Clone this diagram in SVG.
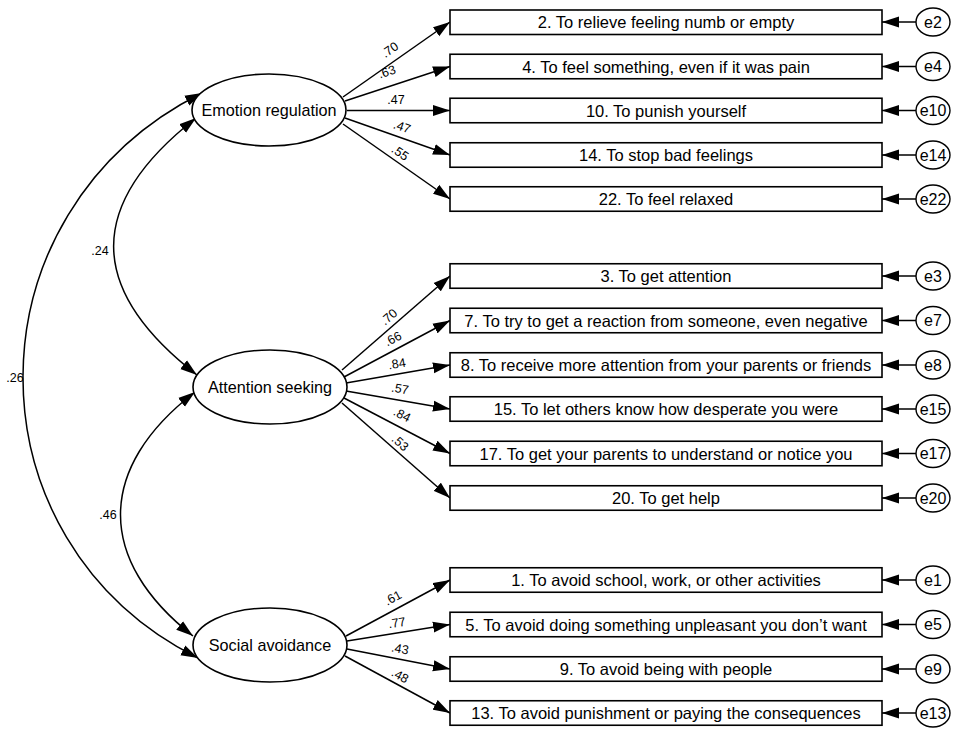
<svg xmlns="http://www.w3.org/2000/svg" width="957" height="738" viewBox="0 0 957 738">
<style>
text{font-family:"Liberation Sans",Arial,sans-serif;fill:#000}
.box{fill:#fff;stroke:#000;stroke-width:1.6}
.lat{fill:#fff;stroke:#000;stroke-width:1.6}
.err{fill:#fff;stroke:#000;stroke-width:1.4}
.bt{font-size:16.5px;text-anchor:middle}
.lt{font-size:16.2px;text-anchor:middle}
.et{font-size:16px;text-anchor:middle}
.ld{font-size:12.5px;text-anchor:middle}
.ln{fill:none;stroke:#000;stroke-width:1.5;marker-end:url(#ah)}
.cv{fill:none;stroke:#000;stroke-width:1.5;marker-start:url(#ah2);marker-end:url(#ah2)}
</style>
<defs>
<marker id="ah" markerUnits="userSpaceOnUse" markerWidth="18" markerHeight="12" refX="17" refY="6" orient="auto"><path d="M0,0.5 L17,6 L0,11.5 z" fill="#000"/></marker>
<marker id="ah2" markerUnits="userSpaceOnUse" markerWidth="18" markerHeight="12" refX="17" refY="6" orient="auto-start-reverse"><path d="M0,0.5 L17,6 L0,11.5 z" fill="#000"/></marker>
</defs>
<rect width="957" height="738" fill="#fff"/>
<g id="connectors">
<path class="cv" d="M202,93 C-36,212 -36,541 198,658"/>
<path class="cv" d="M196,118 C86,204 86,289 197,375"/>
<path class="cv" d="M195,392 C96,468 96,560 193,636"/>
<line class="ln" x1="343" y1="97" x2="450" y2="22"/>
<line class="ln" x1="345" y1="101" x2="450" y2="66.5"/>
<line class="ln" x1="347" y1="110.5" x2="450" y2="110.5"/>
<line class="ln" x1="345" y1="118" x2="450" y2="155"/>
<line class="ln" x1="343" y1="124" x2="450" y2="199"/>
<line class="ln" x1="342" y1="370" x2="450" y2="276"/>
<line class="ln" x1="344" y1="377" x2="450" y2="320.5"/>
<line class="ln" x1="346" y1="383" x2="450" y2="365"/>
<line class="ln" x1="346" y1="391" x2="450" y2="409"/>
<line class="ln" x1="344" y1="398" x2="450" y2="453.5"/>
<line class="ln" x1="342" y1="403" x2="450" y2="498"/>
<line class="ln" x1="346" y1="636" x2="450" y2="580"/>
<line class="ln" x1="347" y1="641" x2="450" y2="624.5"/>
<line class="ln" x1="347" y1="649" x2="450" y2="669"/>
<line class="ln" x1="345" y1="656" x2="450" y2="713"/>
<line class="ln" x1="916" y1="22" x2="882" y2="22"/>
<line class="ln" x1="916" y1="66.5" x2="882" y2="66.5"/>
<line class="ln" x1="916" y1="110.5" x2="882" y2="110.5"/>
<line class="ln" x1="916" y1="155" x2="882" y2="155"/>
<line class="ln" x1="916" y1="199" x2="882" y2="199"/>
<line class="ln" x1="916" y1="276" x2="882" y2="276"/>
<line class="ln" x1="916" y1="320.5" x2="882" y2="320.5"/>
<line class="ln" x1="916" y1="365" x2="882" y2="365"/>
<line class="ln" x1="916" y1="409" x2="882" y2="409"/>
<line class="ln" x1="916" y1="453.5" x2="882" y2="453.5"/>
<line class="ln" x1="916" y1="498" x2="882" y2="498"/>
<line class="ln" x1="916" y1="580" x2="882" y2="580"/>
<line class="ln" x1="916" y1="624.5" x2="882" y2="624.5"/>
<line class="ln" x1="916" y1="669" x2="882" y2="669"/>
<line class="ln" x1="916" y1="713" x2="882" y2="713"/>
<text class="ld" x="100" y="255">.24</text>
<text class="ld" x="108" y="519">.46</text>
<text class="ld" x="15" y="382">.26</text>
<text class="ld" transform="translate(390,50) rotate(-35)" y="4">.70</text>
<text class="ld" transform="translate(387,72) rotate(-18.2)" y="4">.63</text>
<text class="ld" transform="translate(396,100)" y="4">.47</text>
<text class="ld" transform="translate(402,127) rotate(19.4)" y="4">.47</text>
<text class="ld" transform="translate(400,153) rotate(35)" y="4">.55</text>
<text class="ld" transform="translate(389,317) rotate(-41)" y="4">.70</text>
<text class="ld" transform="translate(393,339) rotate(-28.1)" y="4">.66</text>
<text class="ld" transform="translate(397,364) rotate(-9.8)" y="4">.84</text>
<text class="ld" transform="translate(400,389) rotate(9.8)" y="4">.57</text>
<text class="ld" transform="translate(402,415) rotate(27.6)" y="4">.84</text>
<text class="ld" transform="translate(400,443) rotate(41.3)" y="4">.53</text>
<text class="ld" transform="translate(393,598) rotate(-28.3)" y="4">.61</text>
<text class="ld" transform="translate(397,623) rotate(-9.1)" y="4">.77</text>
<text class="ld" transform="translate(400,649) rotate(11)" y="4">.43</text>
<text class="ld" transform="translate(400,676) rotate(28.5)" y="4">.48</text>
</g>
<g id="lat-emotion"><ellipse class="lat" cx="269" cy="110" rx="77" ry="36"/><text class="lt" x="269" y="116">Emotion regulation</text></g>
<g id="lat-attention"><ellipse class="lat" cx="270" cy="387" rx="77" ry="37"/><text class="lt" x="270" y="393">Attention seeking</text></g>
<g id="lat-social"><ellipse class="lat" cx="270" cy="645" rx="77" ry="37"/><text class="lt" x="270" y="651">Social avoidance</text></g>
<g id="item2"><rect class="box" x="450" y="10" width="432" height="24.5"/><text class="bt" x="666" y="28">2. To relieve feeling numb or empty</text></g>
<g id="item4"><rect class="box" x="450" y="54.25" width="432" height="24.5"/><text class="bt" x="666" y="72.5">4. To feel something, even if it was pain</text></g>
<g id="item10"><rect class="box" x="450" y="98.25" width="432" height="24.5"/><text class="bt" x="666" y="116.5">10. To punish yourself</text></g>
<g id="item14"><rect class="box" x="450" y="142.75" width="432" height="24.5"/><text class="bt" x="666" y="161">14. To stop bad feelings</text></g>
<g id="item22"><rect class="box" x="450" y="186.75" width="432" height="24.5"/><text class="bt" x="666" y="205">22. To feel relaxed</text></g>
<g id="item3"><rect class="box" x="450" y="263.75" width="432" height="24.5"/><text class="bt" x="666" y="282">3. To get attention</text></g>
<g id="item7"><rect class="box" x="450" y="308.25" width="432" height="24.5"/><text class="bt" x="666" y="326.5">7. To try to get a reaction from someone, even negative</text></g>
<g id="item8"><rect class="box" x="450" y="352.75" width="432" height="24.5"/><text class="bt" x="666" y="371">8. To receive more attention from your parents or friends</text></g>
<g id="item15"><rect class="box" x="450" y="396.75" width="432" height="24.5"/><text class="bt" x="666" y="415">15. To let others know how desperate you were</text></g>
<g id="item17"><rect class="box" x="450" y="441.25" width="432" height="24.5"/><text class="bt" x="666" y="459.5">17. To get your parents to understand or notice you</text></g>
<g id="item20"><rect class="box" x="450" y="485.75" width="432" height="24.5"/><text class="bt" x="666" y="504">20. To get help</text></g>
<g id="item1"><rect class="box" x="450" y="567.75" width="432" height="24.5"/><text class="bt" x="666" y="586">1. To avoid school, work, or other activities</text></g>
<g id="item5"><rect class="box" x="450" y="612.25" width="432" height="24.5"/><text class="bt" x="666" y="630.5">5. To avoid doing something unpleasant you don’t want</text></g>
<g id="item9"><rect class="box" x="450" y="656.75" width="432" height="24.5"/><text class="bt" x="666" y="675">9. To avoid being with people</text></g>
<g id="item13"><rect class="box" x="450" y="700.75" width="432" height="24.5"/><text class="bt" x="666" y="719">13. To avoid punishment or paying the consequences</text></g>
<g id="e2"><ellipse class="err" cx="933" cy="22" rx="17" ry="14"/><text class="et" x="933" y="27.5">e2</text></g>
<g id="e4"><ellipse class="err" cx="933" cy="66.5" rx="17" ry="14"/><text class="et" x="933" y="72">e4</text></g>
<g id="e10"><ellipse class="err" cx="933" cy="110.5" rx="17" ry="14"/><text class="et" x="933" y="116">e10</text></g>
<g id="e14"><ellipse class="err" cx="933" cy="155" rx="17" ry="14"/><text class="et" x="933" y="160.5">e14</text></g>
<g id="e22"><ellipse class="err" cx="933" cy="199" rx="17" ry="14"/><text class="et" x="933" y="204.5">e22</text></g>
<g id="e3"><ellipse class="err" cx="933" cy="276" rx="17" ry="14"/><text class="et" x="933" y="281.5">e3</text></g>
<g id="e7"><ellipse class="err" cx="933" cy="320.5" rx="17" ry="14"/><text class="et" x="933" y="326">e7</text></g>
<g id="e8"><ellipse class="err" cx="933" cy="365" rx="17" ry="14"/><text class="et" x="933" y="370.5">e8</text></g>
<g id="e15"><ellipse class="err" cx="933" cy="409" rx="17" ry="14"/><text class="et" x="933" y="414.5">e15</text></g>
<g id="e17"><ellipse class="err" cx="933" cy="453.5" rx="17" ry="14"/><text class="et" x="933" y="459">e17</text></g>
<g id="e20"><ellipse class="err" cx="933" cy="498" rx="17" ry="14"/><text class="et" x="933" y="503.5">e20</text></g>
<g id="e1"><ellipse class="err" cx="933" cy="580" rx="17" ry="14"/><text class="et" x="933" y="585.5">e1</text></g>
<g id="e5"><ellipse class="err" cx="933" cy="624.5" rx="17" ry="14"/><text class="et" x="933" y="630">e5</text></g>
<g id="e9"><ellipse class="err" cx="933" cy="669" rx="17" ry="14"/><text class="et" x="933" y="674.5">e9</text></g>
<g id="e13"><ellipse class="err" cx="933" cy="713" rx="17" ry="14"/><text class="et" x="933" y="718.5">e13</text></g>
</svg>
